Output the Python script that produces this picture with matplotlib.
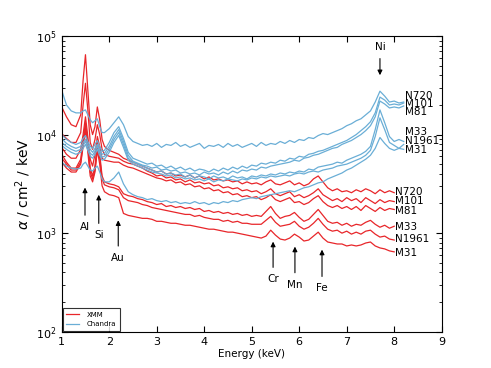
import numpy as np
import matplotlib
matplotlib.use("Agg")
import matplotlib.pyplot as plt

# energy grid (keV): fine steps round Al / Si / Au, then 0.1 keV
energy_low = [1.0, 1.1, 1.2, 1.3, 1.4, 1.45, 1.5, 1.55, 1.6, 1.65, 1.7, 1.75,
              1.8, 1.85, 1.9, 2.0, 2.1, 2.2, 2.3, 2.4, 2.5]
energy_high = [round(2.6 + 0.1 * i, 1) for i in range(57)]   # 2.6 .. 8.2
energy = energy_low + energy_high

names = ['N720', 'M101', 'M81', 'M33', 'N1961', 'M31']

# XMM spectra, log10(alpha / cm^2 / keV), 1.0 .. 8.0 keV
xmm_n720 = [4.28, 4.18, 4.10, 4.08, 4.20, 4.55, 4.81, 4.45, 4.10, 4.00, 4.08, 4.28,
            4.15, 3.95, 3.88, 3.84, 3.82, 3.80, 3.76, 3.74, 3.72,
            3.70, 3.68, 3.66, 3.64, 3.62, 3.63, 3.60, 3.61, 3.58, 3.59,
            3.57, 3.59, 3.56, 3.58, 3.55, 3.57, 3.54, 3.55, 3.53, 3.54,
            3.52, 3.53, 3.50, 3.52, 3.50, 3.51, 3.49, 3.52, 3.54, 3.50,
            3.49, 3.51, 3.53, 3.49, 3.51, 3.48, 3.50, 3.55, 3.58, 3.52,
            3.46, 3.43, 3.45, 3.42, 3.43, 3.41, 3.44, 3.42, 3.45, 3.43,
            3.40, 3.44, 3.41, 3.43, 3.41]
xmm_m101 = [4.01, 3.96, 3.92, 3.92, 4.02, 4.30, 4.52, 4.25, 3.92, 3.85, 3.95, 4.10,
            4.00, 3.85, 3.80, 3.78, 3.77, 3.76, 3.73, 3.71, 3.70,
            3.68, 3.66, 3.63, 3.61, 3.58, 3.59, 3.56, 3.57, 3.54, 3.55,
            3.52, 3.54, 3.51, 3.52, 3.50, 3.51, 3.48, 3.49, 3.46, 3.47,
            3.45, 3.46, 3.43, 3.44, 3.42, 3.43, 3.40, 3.42, 3.45, 3.40,
            3.38, 3.40, 3.42, 3.37, 3.39, 3.36, 3.38, 3.41, 3.45, 3.39,
            3.36, 3.33, 3.35, 3.32, 3.36, 3.33, 3.35, 3.31, 3.36, 3.33,
            3.30, 3.34, 3.31, 3.33, 3.32]
xmm_m81 = [3.87, 3.80, 3.76, 3.76, 3.85, 4.00, 4.18, 3.98, 3.75, 3.68, 3.80, 3.98,
           3.88, 3.76, 3.74, 3.73, 3.72, 3.72, 3.69, 3.67, 3.66,
           3.64, 3.62, 3.60, 3.58, 3.56, 3.55, 3.53, 3.54, 3.51, 3.52,
           3.49, 3.50, 3.47, 3.48, 3.45, 3.46, 3.43, 3.44, 3.41, 3.42,
           3.39, 3.40, 3.37, 3.38, 3.36, 3.37, 3.34, 3.36, 3.39, 3.34,
           3.32, 3.34, 3.36, 3.31, 3.32, 3.29, 3.31, 3.35, 3.38, 3.32,
           3.28, 3.26, 3.28, 3.25, 3.27, 3.24, 3.27, 3.23, 3.28, 3.25,
           3.22, 3.26, 3.23, 3.25, 3.24]
xmm_m33 = [3.80, 3.72, 3.66, 3.66, 3.75, 3.95, 4.12, 3.92, 3.66, 3.58, 3.68, 3.92,
           3.80, 3.58, 3.52, 3.50, 3.49, 3.47, 3.40, 3.38, 3.37,
           3.35, 3.34, 3.32, 3.31, 3.29, 3.30, 3.27, 3.28, 3.26, 3.27,
           3.25, 3.26, 3.24, 3.25, 3.22, 3.23, 3.21, 3.22, 3.20, 3.21,
           3.19, 3.20, 3.18, 3.19, 3.17, 3.18, 3.17, 3.22, 3.27, 3.20,
           3.15, 3.17, 3.18, 3.21, 3.16, 3.12, 3.14, 3.19, 3.24, 3.18,
           3.12, 3.10, 3.11, 3.08, 3.10, 3.07, 3.09, 3.08, 3.11, 3.13,
           3.09, 3.06, 3.08, 3.05, 3.07]
xmm_n1961 = [3.76, 3.70, 3.64, 3.64, 3.72, 3.90, 4.08, 3.88, 3.62, 3.55, 3.64, 3.88,
             3.76, 3.55, 3.49, 3.47, 3.46, 3.44, 3.36, 3.33, 3.32,
             3.31, 3.29, 3.28, 3.26, 3.25, 3.24, 3.23, 3.22, 3.21, 3.20,
             3.19, 3.19, 3.17, 3.18, 3.16, 3.15, 3.14, 3.14, 3.12, 3.13,
             3.11, 3.12, 3.10, 3.10, 3.09, 3.09, 3.09, 3.13, 3.17, 3.11,
             3.07, 3.08, 3.09, 3.12, 3.07, 3.04, 3.06, 3.10, 3.15, 3.09,
             3.04, 3.02, 3.03, 3.00, 3.02, 2.99, 3.01, 2.99, 3.02, 3.03,
             2.99, 2.96, 2.97, 2.94, 2.93]
xmm_m31 = [3.72, 3.66, 3.62, 3.62, 3.70, 3.88, 4.05, 3.82, 3.58, 3.52, 3.62, 3.84,
           3.70, 3.48, 3.42, 3.39, 3.38, 3.36, 3.20, 3.18, 3.17,
           3.16, 3.15, 3.15, 3.14, 3.12, 3.12, 3.11, 3.10, 3.10, 3.09,
           3.08, 3.08, 3.07, 3.06, 3.05, 3.04, 3.04, 3.03, 3.02, 3.01,
           3.01, 3.00, 2.99, 2.98, 2.97, 2.96, 2.95, 2.97, 3.03, 2.98,
           2.94, 2.93, 2.95, 2.99, 2.96, 2.92, 2.93, 2.97, 3.01, 2.95,
           2.91, 2.90, 2.89, 2.89, 2.87, 2.88, 2.87, 2.88, 2.90, 2.91,
           2.87, 2.85, 2.84, 2.82, 2.81]

# Chandra spectra, log10(alpha / cm^2 / keV), 1.0 .. 8.2 keV
chandra_n720 = [4.45, 4.30, 4.24, 4.22, 4.22, 4.24, 4.25, 4.20, 4.15, 4.12, 4.14, 4.16,
                4.08, 4.02, 4.02, 4.06, 4.12, 4.18, 4.10, 3.98, 3.93,
                3.91, 3.89, 3.90, 3.88, 3.91, 3.87, 3.90, 3.89, 3.92, 3.88,
                3.90, 3.87, 3.89, 3.91, 3.86, 3.89, 3.88, 3.90, 3.87, 3.91,
                3.88, 3.90, 3.87, 3.89, 3.91, 3.88, 3.92, 3.89, 3.91, 3.90,
                3.93, 3.91, 3.94, 3.92, 3.95, 3.94, 3.97, 3.96, 3.99, 4.01,
                4.00, 4.02, 4.04, 4.06, 4.09, 4.11, 4.14, 4.16, 4.20, 4.24,
                4.33, 4.44, 4.39, 4.33, 4.34, 4.32, 4.33]
chandra_m101 = [4.00, 3.95, 3.92, 3.90, 3.92, 3.96, 3.99, 3.93, 3.88, 3.86, 3.90, 3.94,
                3.88, 3.83, 3.84, 3.92, 4.02, 4.08, 3.96, 3.82, 3.76,
                3.74, 3.72, 3.70, 3.71, 3.68, 3.69, 3.66, 3.68, 3.65, 3.67,
                3.64, 3.66, 3.63, 3.65, 3.64, 3.62, 3.65, 3.63, 3.66, 3.64,
                3.67, 3.65, 3.68, 3.66, 3.69, 3.68, 3.71, 3.70, 3.72, 3.71,
                3.74, 3.73, 3.76, 3.75, 3.78, 3.77, 3.80, 3.81, 3.83, 3.84,
                3.86, 3.88, 3.90, 3.92, 3.94, 3.97, 4.00, 4.04, 4.08, 4.13,
                4.22, 4.38, 4.35, 4.30, 4.31, 4.30, 4.32]
chandra_m81 = [3.96, 3.91, 3.88, 3.86, 3.88, 3.92, 3.95, 3.90, 3.85, 3.82, 3.86, 3.90,
               3.84, 3.80, 3.81, 3.88, 3.98, 4.05, 3.93, 3.79, 3.73,
               3.71, 3.69, 3.68, 3.66, 3.67, 3.64, 3.65, 3.63, 3.64, 3.61,
               3.62, 3.60, 3.61, 3.59, 3.62, 3.60, 3.61, 3.59, 3.62, 3.60,
               3.63, 3.61, 3.64, 3.63, 3.65, 3.64, 3.67, 3.66, 3.68, 3.69,
               3.70, 3.71, 3.72, 3.74, 3.73, 3.76, 3.77, 3.79, 3.80, 3.82,
               3.84, 3.86, 3.87, 3.90, 3.92, 3.94, 3.97, 4.00, 4.04, 4.09,
               4.18, 4.34, 4.31, 4.27, 4.28, 4.27, 4.29]
chandra_m33 = [3.92, 3.88, 3.85, 3.83, 3.85, 3.89, 3.93, 3.87, 3.81, 3.79, 3.83, 3.88,
               3.82, 3.77, 3.78, 3.85, 3.95, 4.02, 3.90, 3.76, 3.72,
               3.70, 3.68, 3.66, 3.64, 3.62, 3.63, 3.60, 3.61, 3.59, 3.60,
               3.57, 3.59, 3.56, 3.58, 3.57, 3.55, 3.58, 3.56, 3.57, 3.55,
               3.58, 3.56, 3.57, 3.55, 3.58, 3.57, 3.59, 3.58, 3.60, 3.59,
               3.61, 3.60, 3.62, 3.61, 3.63, 3.62, 3.65, 3.64, 3.67, 3.68,
               3.69, 3.70, 3.72, 3.71, 3.74, 3.76, 3.78, 3.80, 3.83, 3.88,
               4.05, 4.25, 4.12, 3.98, 3.93, 3.95, 3.93]
chandra_n1961 = [3.89, 3.85, 3.82, 3.80, 3.82, 3.86, 3.90, 3.84, 3.78, 3.76, 3.80, 3.85,
                 3.79, 3.74, 3.75, 3.82, 3.92, 3.99, 3.87, 3.74, 3.70,
                 3.68, 3.66, 3.64, 3.62, 3.61, 3.60, 3.58, 3.59, 3.56, 3.57,
                 3.55, 3.56, 3.54, 3.55, 3.53, 3.55, 3.52, 3.54, 3.53, 3.55,
                 3.54, 3.53, 3.55, 3.54, 3.56, 3.55, 3.57, 3.56, 3.58, 3.57,
                 3.58, 3.59, 3.58, 3.60, 3.61, 3.60, 3.62, 3.63, 3.62, 3.64,
                 3.65, 3.66, 3.68, 3.69, 3.70, 3.72, 3.74, 3.76, 3.79, 3.84,
                 3.98, 4.17, 4.05, 3.92, 3.89, 3.86, 3.90]
chandra_m31 = [3.72, 3.68, 3.66, 3.65, 3.66, 3.70, 3.72, 3.68, 3.64, 3.63, 3.66, 3.68,
               3.62, 3.55, 3.52, 3.52, 3.56, 3.62, 3.50, 3.42, 3.39,
               3.37, 3.36, 3.34, 3.35, 3.33, 3.32, 3.33, 3.31, 3.32, 3.30,
               3.31, 3.30, 3.32, 3.30, 3.31, 3.29, 3.31, 3.30, 3.32, 3.31,
               3.33, 3.32, 3.34, 3.35, 3.36, 3.35, 3.37, 3.38, 3.39, 3.40,
               3.41, 3.42, 3.43, 3.42, 3.44, 3.46, 3.47, 3.49, 3.51, 3.52,
               3.55, 3.57, 3.59, 3.61, 3.64, 3.66, 3.69, 3.72, 3.75, 3.79,
               3.86, 3.97, 3.91, 3.86, 3.84, 3.86, 3.85]

xmm = [xmm_n720, xmm_m101, xmm_m81, xmm_m33, xmm_n1961, xmm_m31]
chandra = [chandra_n720, chandra_m101, chandra_m81, chandra_m33, chandra_n1961, chandra_m31]

# line features: (label, energy of arrow, alpha at arrow tip, alpha at text)
features = [('Al', 1.49, 2900, 1150), ('Si', 1.78, 2450, 950), ('Au', 2.19, 1350, 560),
            ('Cr', 5.45, 820, 340), ('Mn', 5.91, 730, 300), ('Fe', 6.48, 680, 275),
            ('Ni', 7.70, 40000, 78000)]

# where the galaxy names sit on the right
xmm_label_y = [2630, 2140, 1680, 1150, 870, 630]
chandra_label_y = [24500, 20400, 17000, 10500, 8600, 6950]

red = '#e8262a'
blue = '#6aaed6'

fig = plt.figure(figsize=(4.91, 3.68), dpi=100)
ax = fig.add_axes([0.1257, 0.0986, 0.7739, 0.8036])

for i, vals in enumerate(xmm):
    ax.plot(energy[:len(vals)], 10 ** np.array(vals), color=red, lw=0.9,
            label='XMM' if i == 0 else None)
for i, vals in enumerate(chandra):
    ax.plot(energy[:len(vals)], 10 ** np.array(vals), color=blue, lw=0.9,
            label='Chandra' if i == 0 else None)

for name, y in zip(names, xmm_label_y):
    ax.text(8.02, y, name, fontsize=7.5, va='center', ha='left')
for name, y in zip(names, chandra_label_y):
    ax.text(8.22, y, name, fontsize=7.5, va='center', ha='left')

for lab, e, tip, txt in features:
    ax.annotate(lab, xy=(e, tip), xytext=(e, txt), fontsize=7.5,
                ha='center', va='center',
                arrowprops=dict(arrowstyle='-|>', color='k', lw=0.8,
                                mutation_scale=7, shrinkA=3, shrinkB=0))

ax.set_yscale('log')
ax.set_xlim(1, 9)
ax.set_ylim(1e2, 1e5)
ax.set_xticks(range(1, 10))
ax.tick_params(which='both', direction='in', top=True, right=True, labelsize=8)
ax.tick_params(which='major', length=4)
ax.tick_params(which='minor', length=2)
ax.set_xlabel('Energy (keV)', fontsize=7.5, labelpad=2)
ax.set_ylabel(r'$\alpha$ / cm$^2$ / keV', fontsize=10, labelpad=2)

leg = ax.legend(loc='lower left', fontsize=5, frameon=True, fancybox=False,
                handlelength=1.8, handletextpad=1.2, borderpad=0.5,
                labelspacing=0.5, borderaxespad=0.15)
leg.get_frame().set_edgecolor('black')
leg.get_frame().set_linewidth(0.8)

fig.savefig('out.png', dpi=100)
